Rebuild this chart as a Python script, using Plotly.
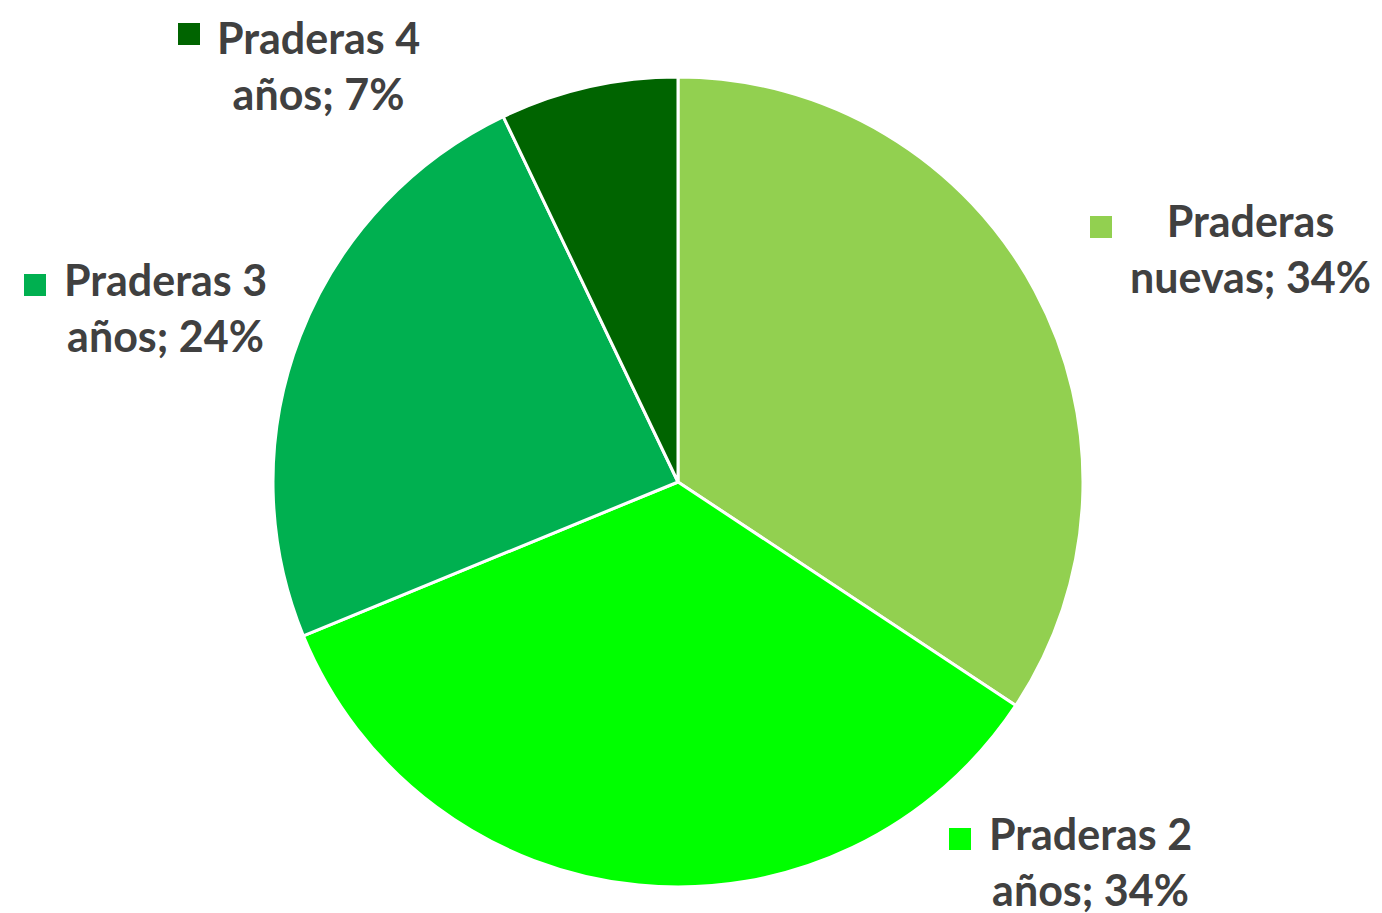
import plotly.graph_objects as go

categories = ["Praderas nuevas", "Praderas 2 años", "Praderas 3 años", "Praderas 4 años"]
values = [34.3, 34.5, 24.1, 7.1]
colors = ["#92D050", "#00FF00", "#00B050", "#006400"]
label_lines = [("Praderas", "nuevas"), ("Praderas 2", "años"), ("Praderas 3", "años"), ("Praderas 4", "años")]

# label placement (px of text center) and legend-key square position (px)
W, H = 1382, 913
label_pos = [(1242, 241), (1082, 853), (157, 299), (310, 57)]
key_pos = [(1093, 219), (952, 831), (27, 277), (181, 26)]

total = sum(values)
fig = go.Figure(go.Pie(
    labels=categories, values=values, sort=False, direction="clockwise", rotation=0,
    marker=dict(colors=colors, line=dict(color="white", width=3)),
    textinfo="none", hoverinfo="label+percent", showlegend=False,
    domain=dict(x=[265 / W, 1075 / W], y=[1 - 880 / H, 1 - 68 / H]),
))

font = dict(family="Lato, Carlito, Calibri, sans-serif", size=43, color="#404040")
for (l1, l2), v, (cx, cy), (kx, ky), c in zip(label_lines, values, label_pos, key_pos, colors):
    pct = round(v / total * 100)
    fig.add_annotation(x=cx / W, y=1 - cy / H, xref="paper", yref="paper",
                       text=f"<b>{l1}<br>{l2}; {pct}%</b>", showarrow=False,
                       font=font, align="center", xanchor="center", yanchor="middle",
                       borderpad=0)
    s = 11
    fig.add_shape(type="rect", xref="paper", yref="paper",
                  x0=(kx - s) / W, x1=(kx + s) / W, y0=1 - (ky + s) / H, y1=1 - (ky - s) / H,
                  fillcolor=c, line=dict(width=0))

fig.update_layout(width=W, height=H, margin=dict(l=0, r=0, t=0, b=0),
                  paper_bgcolor="white", plot_bgcolor="white")
fig.write_html("out.html")
